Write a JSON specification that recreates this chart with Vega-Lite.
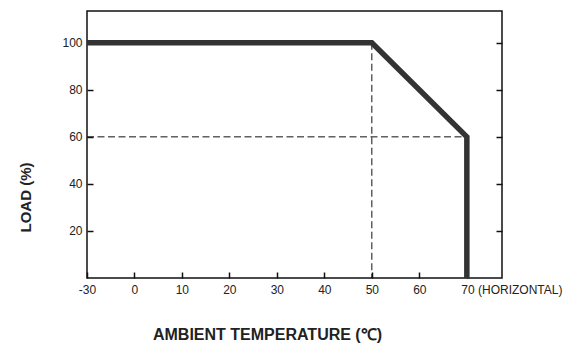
{
  "$schema": "https://vega.github.io/schema/vega-lite/v6.json",
  "width": 415,
  "height": 267,
  "autosize": "none",
  "padding": {"left": 87, "top": 11, "right": 69, "bottom": 75},
  "background": "white",
  "config": {
    "view": {"stroke": "#111", "strokeWidth": 1.5},
    "font": "Liberation Sans"
  },
  "datasets": {
    "curve": [
      {"step": 1, "temp": -30, "load": 100},
      {"step": 2, "temp": 50, "load": 100},
      {"step": 3, "temp": 70, "load": 60},
      {"step": 4, "temp": 70, "load": 0}
    ],
    "guides": [
      {"guide": "v50", "step": 1, "temp": 50, "load": 100},
      {"guide": "v50", "step": 2, "temp": 50, "load": 0},
      {"guide": "h60", "step": 1, "temp": -30, "load": 60},
      {"guide": "h60", "step": 2, "temp": 70, "load": 60}
    ]
  },
  "encoding": {
    "x": {
      "field": "temp",
      "type": "quantitative",
      "scale": {"domain": [-30, 0, 77.4], "range": [0, 47.3, 415], "nice": false, "zero": false},
      "axis": {
        "values": [-30, 0, 10, 20, 30, 40, 50, 60, 70],
        "labelExpr": "datum.value == -30 ? '-30' : (datum.value == 70 ? '70 (HORIZONTAL)' : datum.label)",
        "labelAlign": {"condition": {"test": "datum.value == 70", "value": "left"}, "value": "center"},
        "labelOffset": {"condition": {"test": "datum.value == 70", "value": -6}, "value": 0},
        "labelFont": "Liberation Sans",
        "labelFontSize": 12,
        "labelColor": "#222",
        "labelPadding": 12,
        "tickSize": -6,
        "tickColor": "#111",
        "tickWidth": 1.5,
        "domain": false,
        "grid": false,
        "title": "AMBIENT TEMPERATURE (℃)",
        "titleFont": "Liberation Sans",
        "titleFontSize": 16,
        "titleFontWeight": "bold",
        "titleColor": "#222",
        "titleX": 180,
        "titleY": 56,
        "titleBaseline": "middle"
      }
    }
  },
  "layer": [
    {
      "data": {"name": "guides"},
      "mark": {"type": "line", "stroke": "#111", "strokeWidth": 1, "strokeDash": [7, 3.5]},
      "encoding": {
        "y": {
          "field": "load",
          "type": "quantitative",
          "scale": {"domain": [0, 113.5], "nice": false, "zero": true},
          "axis": {
            "orient": "left",
            "values": [20, 40, 60, 80, 100],
            "labelFont": "Liberation Sans",
            "labelFontSize": 12,
            "labelColor": "#222",
            "labelPadding": 11,
            "tickSize": -6,
            "tickColor": "#111",
            "tickWidth": 1.5,
            "domain": false,
            "grid": false,
            "title": "LOAD (%)",
            "titleFont": "Liberation Sans",
            "titleFontSize": 15,
            "titleFontWeight": "bold",
            "titleColor": "#222",
            "titleX": -62,
            "titleY": 186,
            "titleBaseline": "middle"
          }
        },
        "detail": {"field": "guide"},
        "order": {"field": "step"}
      }
    },
    {
      "data": {"name": "curve"},
      "mark": {"type": "line", "stroke": "#333", "strokeWidth": 5.5, "strokeJoin": "miter"},
      "encoding": {
        "y": {
          "field": "load",
          "type": "quantitative",
          "scale": {"domain": [0, 113.5], "nice": false, "zero": true},
          "axis": {
            "orient": "right",
            "values": [20, 40, 60, 80, 100],
            "labels": false,
            "tickSize": -6,
            "tickColor": "#111",
            "tickWidth": 1.5,
            "domain": false,
            "grid": false,
            "title": null
          }
        },
        "order": {"field": "step"}
      }
    }
  ],
  "resolve": {"scale": {"y": "independent"}, "axis": {"y": "independent"}}
}
